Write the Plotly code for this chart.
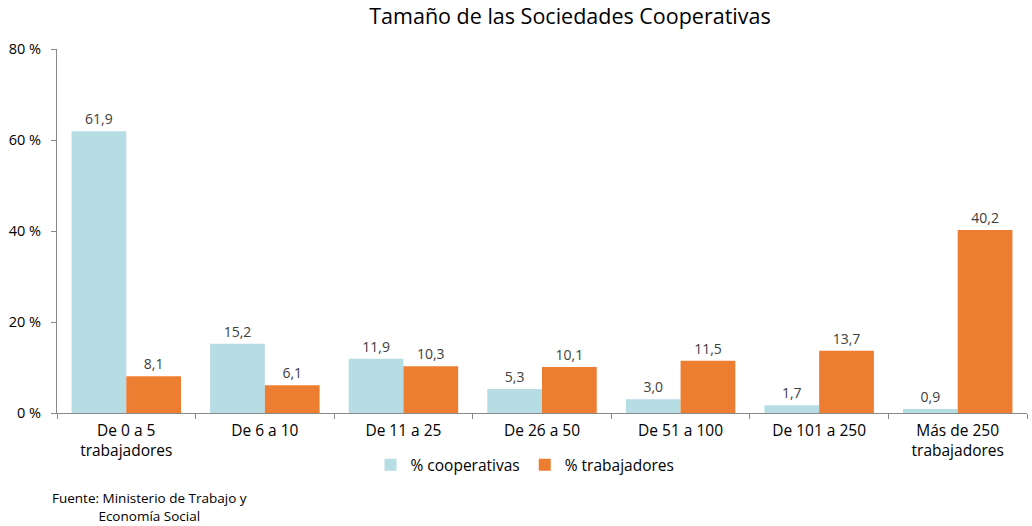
import plotly.graph_objects as go

categories = ["De 0 a 5<br>trabajadores", "De 6 a 10", "De 11 a 25", "De 26 a 50",
              "De 51 a 100", "De 101 a 250", "Más de 250<br>trabajadores"]
cooperativas = [61.9, 15.2, 11.9, 5.3, 3.0, 1.7, 0.9]
trabajadores = [8.1, 6.1, 10.3, 10.1, 11.5, 13.7, 40.2]
y_ticks = [0, 20, 40, 60, 80]
y_ticktext = ["0 %", "20 %", "40 %", "60 %", "80 %"]

def fmt(v):
    return f"{v:.1f}".replace(".", ",")

FONT = "Open Sans, sans-serif"

fig = go.Figure()
fig.add_trace(go.Bar(
    x=categories, y=cooperativas, name="% cooperativas",
    marker=dict(color="#B7DDE4", line=dict(width=0)),
    text=[fmt(v) for v in cooperativas], textposition="outside",
    textfont=dict(size=14, color="#404040", family=FONT), cliponaxis=False,
))
fig.add_trace(go.Bar(
    x=categories, y=trabajadores, name="% trabajadores",
    marker=dict(color="#ED7D31", line=dict(width=0)),
    text=[fmt(v) for v in trabajadores], textposition="outside",
    textfont=dict(size=14, color="#404040", family=FONT), cliponaxis=False,
))

fig.update_layout(
    width=1032, height=526,
    margin=dict(l=57, r=5, t=49, b=113, autoexpand=False),
    plot_bgcolor="white", paper_bgcolor="white",
    font=dict(family=FONT, size=15, color="#000000"),
    title=dict(text="Tamaño de las Sociedades Cooperativas", x=0.5523, xref="container",
               xanchor="center", y=0.9696, yanchor="middle",
               font=dict(size=21.5, color="#000000", family=FONT)),
    barmode="group", bargap=0.21, bargroupgap=0,
    showlegend=True,
    legend=dict(orientation="h", x=0.4825, xanchor="center", y=-0.143, yanchor="middle",
                font=dict(size=15.5, color="#000000", family=FONT), traceorder="normal",
                itemwidth=30),
)
fig.update_xaxes(
    showline=True, linecolor="#898989", linewidth=1, automargin=False,
    ticks="outside", tickson="boundaries", ticklen=5, tickcolor="#898989",
    tickfont=dict(size=15.5, color="#000000"), showgrid=False, ticklabelstandoff=3,
)
fig.update_yaxes(
    range=[0, 80], tickvals=y_ticks, ticktext=y_ticktext, automargin=False,
    showline=True, linecolor="#898989", linewidth=1,
    ticks="outside", ticklen=5, tickcolor="#898989",
    tickfont=dict(size=14.5, color="#000000"), showgrid=False, zeroline=False,
    ticklabelstandoff=7,
)
fig.add_annotation(
    text="Fuente: Ministerio de Trabajo y<br>Economía Social",
    xref="paper", yref="paper", x=-0.0072, y=-0.314, xanchor="left", yanchor="bottom",
    showarrow=False, align="center", font=dict(size=13.5, color="#000000", family=FONT),
)
fig.write_html("out.html", config={"displayModeBar": False},
               post_script="document.body.style.margin='0';")
